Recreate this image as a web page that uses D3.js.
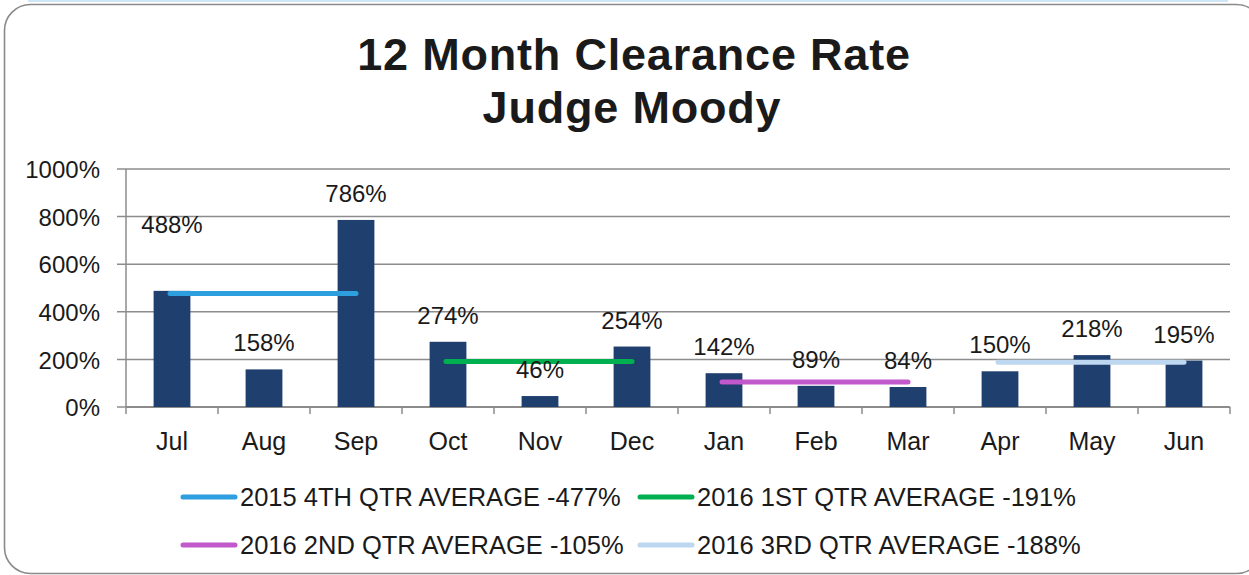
<!DOCTYPE html>
<html>
<head>
  <meta charset="utf-8">
  <style>
    body { margin: 0; background: #fff; }
    svg { display: block; }
    text { font-family: "Liberation Sans", Arial, sans-serif; fill: #1a1a1a; }
  </style>
</head>
<body>
  <div id="chart"></div>
  <script src="https://d3js.org/d3.v7.min.js"></script>
  <script>

    // data
    var months = ["Jul", "Aug", "Sep", "Oct", "Nov", "Dec", "Jan", "Feb", "Mar", "Apr", "May", "Jun"];
    var rates = [488, 158, 786, 274, 46, 254, 142, 89, 84, 150, 218, 195];
    var yTicks = [0, 200, 400, 600, 800, 1000];
    var quarterNames = ["2015 4TH QTR AVERAGE", "2016 1ST QTR AVERAGE", "2016 2ND QTR AVERAGE", "2016 3RD QTR AVERAGE"];
    var quarterAverages = [477, 191, 105, 188];
    var quarterFirst = ["Jul", "Oct", "Jan", "Apr"];
    var quarterLast = ["Sep", "Dec", "Mar", "Jun"];

    var quarterColors = ["#2e9fde", "#00b050", "#c158cb", "#bdd7f0"];
    var barColor = "#1f3f6e";
    var gridColor = "#8c8c8c";

    var W = 1249, H = 575;
    var plot = {left: 126, right: 1230, top: 169, bottom: 407};

    var svg = d3.select("#chart").append("svg")
        .attr("width", W)
        .attr("height", H);

    // frame
    svg.append("rect")
        .attr("x", 28).attr("y", 0)
        .attr("width", 1200).attr("height", 2)
        .attr("fill", "#cfe6f7");
    svg.append("rect")
        .attr("x", 4.5).attr("y", 4.5)
        .attr("width", 1258).attr("height", 569)
        .attr("rx", 26).attr("ry", 26)
        .attr("fill", "#fff")
        .attr("stroke", "#8a8a8a")
        .attr("stroke-width", 1.6);

    // title
    var title = svg.append("text")
        .attr("text-anchor", "middle")
        .style("font-size", "45px")
        .style("font-weight", "bold")
        .style("letter-spacing", "0.8px");
    title.append("tspan").attr("x", 634).attr("y", 70).text("12 Month Clearance Rate");
    title.append("tspan").attr("x", 632).attr("y", 123).text("Judge Moody");

    var x = d3.scaleBand()
        .domain(months)
        .range([plot.left, plot.right])
        .padding(0);

    var y = d3.scaleLinear()
        .domain([0, 1000])
        .range([plot.bottom, plot.top]);

    // gridlines
    svg.append("g")
        .selectAll("line")
        .data(yTicks)
        .enter().append("line")
        .attr("x1", plot.left - 9)
        .attr("x2", plot.right)
        .attr("y1", d => y(d))
        .attr("y2", d => y(d))
        .attr("stroke", gridColor)
        .attr("stroke-width", 1.5);

    // y axis
    var yAxis = svg.append("g")
        .attr("transform", "translate(" + plot.left + ",0)")
        .call(d3.axisLeft(y).tickValues(yTicks).tickSize(0).tickPadding(26).tickFormat(d => d + "%"));
    yAxis.select(".domain").remove();
    yAxis.selectAll("text")
        .style("font-size", "24px")
        .attr("fill", "#1a1a1a")
        .attr("dy", "0.36em");
    svg.append("line")
        .attr("x1", plot.left).attr("x2", plot.left)
        .attr("y1", plot.top).attr("y2", plot.bottom + 7)
        .attr("stroke", gridColor).attr("stroke-width", 1.5);

    // x axis
    var xAxis = svg.append("g")
        .attr("transform", "translate(0," + plot.bottom + ")")
        .call(d3.axisBottom(x).tickSize(0).tickPadding(43));
    xAxis.select(".domain").remove();
    xAxis.selectAll("text")
        .style("font-size", "25px")
        .attr("fill", "#1a1a1a")
        .attr("dy", "0");
    svg.append("line")
        .attr("x1", plot.left).attr("x2", plot.right)
        .attr("y1", plot.bottom).attr("y2", plot.bottom)
        .attr("stroke", gridColor).attr("stroke-width", 1.8);
    svg.append("g")
        .selectAll("line")
        .data(months)
        .enter().append("line")
        .attr("x1", d => x(d) + x.bandwidth())
        .attr("x2", d => x(d) + x.bandwidth())
        .attr("y1", plot.bottom)
        .attr("y2", plot.bottom + 7)
        .attr("stroke", gridColor)
        .attr("stroke-width", 1.5);

    // bars
    var barW = x.bandwidth() * 0.4;
    svg.append("g")
        .selectAll("rect")
        .data(rates)
        .enter().append("rect")
        .attr("x", (d, i) => x(months[i]) + (x.bandwidth() - barW) / 2)
        .attr("y", d => y(d))
        .attr("width", barW)
        .attr("height", d => plot.bottom - y(d))
        .attr("fill", barColor);

    // quarter average lines
    svg.append("g")
        .selectAll("line")
        .data(quarterAverages)
        .enter().append("line")
        .attr("x1", (d, i) => x(quarterFirst[i]) + x.bandwidth() / 2 - 2)
        .attr("x2", (d, i) => x(quarterLast[i]) + x.bandwidth() / 2)
        .attr("y1", d => y(d))
        .attr("y2", d => y(d))
        .attr("stroke", (d, i) => quarterColors[i])
        .attr("stroke-width", 5)
        .attr("stroke-linecap", "round");

    // value labels (Jul label sits higher, clear of the average line)
    svg.append("g")
        .selectAll("text")
        .data(rates)
        .enter().append("text")
        .attr("text-anchor", "middle")
        .attr("x", (d, i) => x(months[i]) + x.bandwidth() / 2)
        .attr("y", (d, i) => y(d) - (i === 0 ? 58 : 18))
        .style("font-size", "24px")
        .text(d => d + "%");

    // legend
    var legend = svg.append("g")
        .selectAll("g")
        .data(quarterNames)
        .enter().append("g")
        .attr("transform", (d, i) => "translate(" + (i % 2 === 0 ? 181 : 638) + "," + (i < 2 ? 497 : 545) + ")");
    legend.append("line")
        .attr("x1", 2).attr("x2", 54)
        .attr("stroke", (d, i) => quarterColors[i])
        .attr("stroke-width", 5)
        .attr("stroke-linecap", "round");
    legend.append("text")
        .attr("x", 59)
        .attr("y", 9)
        .style("font-size", "25.5px")
        .text((d, i) => d + " -" + quarterAverages[i] + "%");

  </script>
</body>
</html>
